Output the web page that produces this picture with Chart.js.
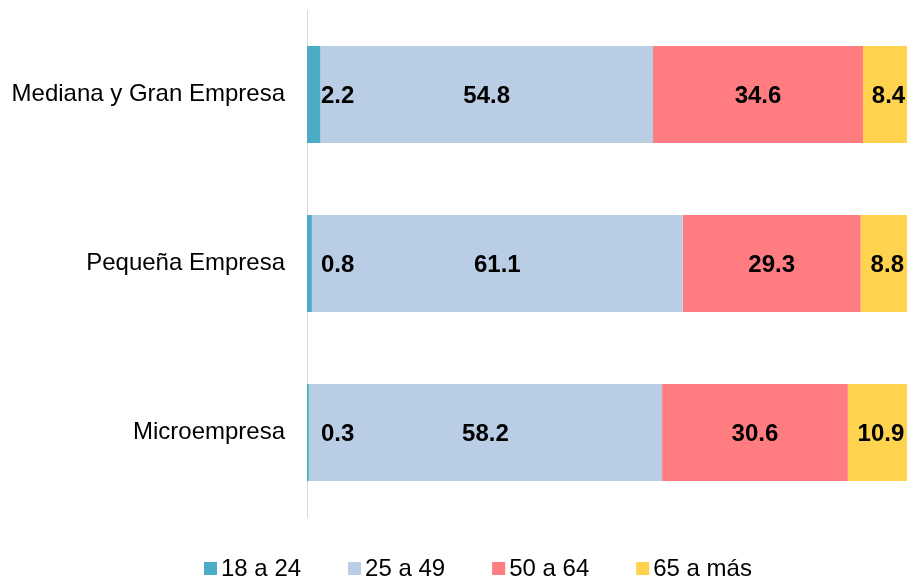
<!DOCTYPE html>
<html>
<head>
<meta charset="utf-8">
<script src="https://cdn.jsdelivr.net/npm/chart.js@4.4.0/dist/chart.umd.min.js"></script>
<style>
html, body { margin:0; padding:0; background:#fff; overflow:hidden; }
#wrap { width:914px; height:577px; }
</style>
</head>
<body>
<div id="wrap"><canvas id="ageChart" width="914" height="577"></canvas></div>
<script>
// categorias y series (porcentajes por tramo de edad)
const empresas = ["Mediana y Gran Empresa", "Pequeña Empresa", "Microempresa"];
const tramos = ["18 a 24", "25 a 49", "50 a 64", "65 a más"];
const edad18a24 = [2.2, 0.8, 0.3];
const edad25a49 = [54.8, 61.1, 58.2];
const edad50a64 = [34.6, 29.3, 30.6];
const edad65mas = [8.4, 8.8, 10.9];

const colores = ["#4BACC6", "#B9CDE5", "#FF7C80", "#FFD34E"];
const FONT = "'Liberation Sans', Arial, sans-serif";

/* ================================
   ETIQUETAS DE VALOR
================================ */
const valueLabels = {
    id: "valueLabels",
    afterDatasetsDraw(chart){
        const ctx = chart.ctx;
        ctx.save();
        ctx.font = "bold 24px " + FONT;
        ctx.fillStyle = "#000";
        ctx.textBaseline = "middle";
        chart.data.datasets.forEach((ds, i)=>{
            const meta = chart.getDatasetMeta(i);
            meta.data.forEach((bar, j)=>{
                const p = bar.getProps(["x", "y", "base"], true);
                const txt = ds.data[j].toFixed(1);
                if(i === 0){
                    // segmento muy angosto: texto a la derecha del eje
                    ctx.textAlign = "left";
                    ctx.fillText(txt, chart.chartArea.left + 14, p.y + 2);
                }else{
                    ctx.textAlign = "center";
                    ctx.fillText(txt, (p.x + p.base) / 2, p.y + 2);
                }
            });
        });
        ctx.restore();
    }
};

/* ================================
   LEYENDA INFERIOR
================================ */
const bottomLegend = {
    id: "bottomLegend",
    afterDraw(chart, args, opts){
        const ctx = chart.ctx;
        ctx.save();
        ctx.font = "24px " + FONT;
        ctx.textBaseline = "alphabetic";
        ctx.textAlign = "left";
        let x = opts.startX;
        chart.data.datasets.forEach(ds=>{
            ctx.fillStyle = ds.backgroundColor;
            ctx.fillRect(x, opts.boxY, opts.box, opts.box);
            ctx.fillStyle = "#000";
            ctx.fillText(ds.label, x + opts.box + 4, opts.textY);
            x += opts.box + 4 + ctx.measureText(ds.label).width + opts.gap;
        });
        ctx.restore();
    }
};

const series = [edad18a24, edad25a49, edad50a64, edad65mas];

new Chart(document.getElementById("ageChart").getContext("2d"), {
    type: "bar",
    data: {
        labels: empresas,
        datasets: series.map((vals, i)=>({
            label: tramos[i],
            data: vals,
            backgroundColor: colores[i],
            borderWidth: 0,
            barPercentage: 0.574,
            categoryPercentage: 1
        }))
    },
    options: {
        indexAxis: "y",
        responsive: false,
        animation: false,
        devicePixelRatio: 1,
        layout: { padding: { top: 10, bottom: 60, left: 0, right: 0 } },
        plugins: {
            legend: { display: false },
            tooltip: { enabled: false },
            bottomLegend: { startX: 204, boxY: 562, box: 13, textY: 576, gap: 47 }
        },
        scales: {
            x: {
                stacked: true,
                min: 0,
                max: 100,
                display: false
            },
            y: {
                stacked: true,
                grid: { display: false, drawTicks: false },
                border: { display: true, color: "#D9D9D9", width: 1 },
                ticks: {
                    color: "#000",
                    padding: 22,
                    font: { family: FONT, size: 24 }
                },
                afterFit(scale){
                    scale.width = 307;
                    scale.paddingTop = 0;
                    scale.paddingBottom = 0;
                }
            }
        }
    },
    plugins: [valueLabels, bottomLegend]
});
</script>
</body>
</html>
